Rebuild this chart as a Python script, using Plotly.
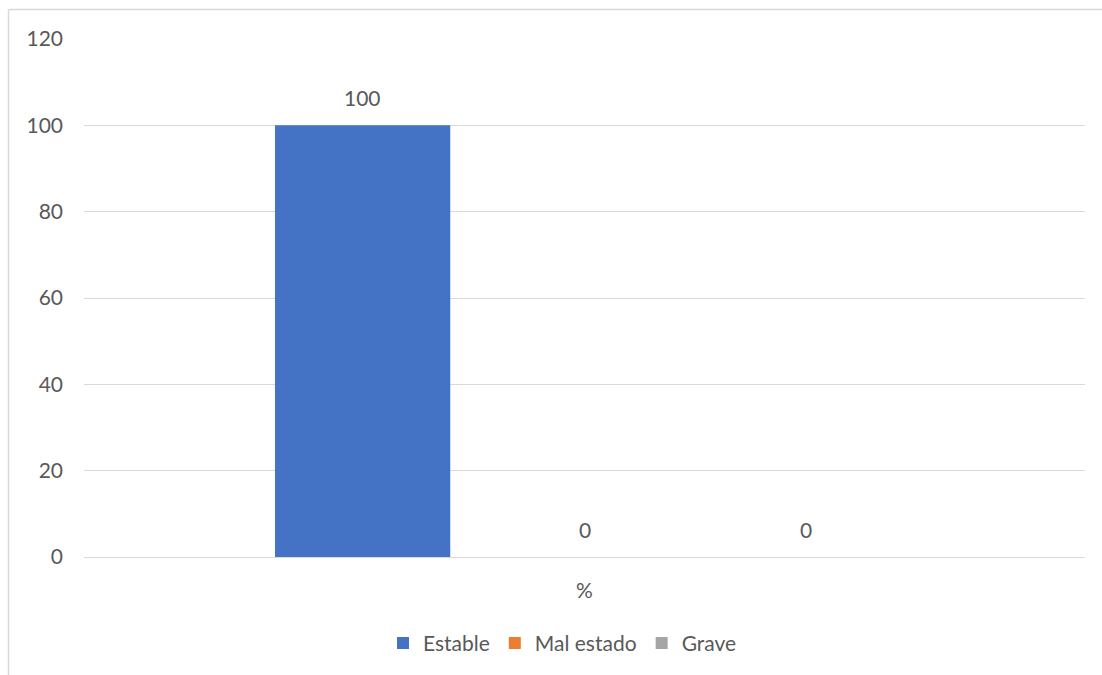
import plotly.graph_objects as go

# Chart data
categories = ["%"]
series_names = ["Estable", "Mal estado", "Grave"]
series_values = [[100], [0], [0]]
series_colors = ["#4472C4", "#ED7D31", "#A5A5A5"]
y_ticks = [0, 20, 40, 60, 80, 100, 120]

FONT = "Lato"
FONT_SIZE = 21
TEXT_COLOR = "#595959"
GRID_COLOR = "#D9D9D9"

BARGAP = 0.335
BARGROUPGAP = 0.21

fig = go.Figure()
for name, vals, color in zip(series_names, series_values, series_colors):
    fig.add_trace(go.Bar(
        name=name,
        x=categories,
        y=vals,
        marker=dict(color=color, line=dict(width=0)),
        hoverinfo="skip",
    ))

# Value labels above each bar, placed at the centre of each bar slot
n = len(series_names)
slot = (1 - BARGAP) / n
for i, vals in enumerate(series_values):
    for j, v in enumerate(vals):
        fig.add_annotation(
            x=j + (i - (n - 1) / 2) * slot,
            y=v,
            xref="x", yref="y",
            text=str(v),
            showarrow=False,
            yanchor="bottom",
            yshift=13,
            font=dict(family=FONT, size=FONT_SIZE, color=TEXT_COLOR),
        )

# Chart frame (top and left edges)
W, H = 1102, 675
ml, mr, mt, mb = 84, 17, 39, 117
pw, ph = W - ml - mr, H - mt - mb
def px_to_paper_x(px):
    return (px - ml) / pw
def px_to_paper_y(py):
    return (H - mb - py) / ph

fig.add_shape(type="line", xref="paper", yref="paper",
              x0=px_to_paper_x(8.5), x1=px_to_paper_x(W + 5),
              y0=px_to_paper_y(9.5), y1=px_to_paper_y(9.5),
              line=dict(color=GRID_COLOR, width=1.5))
fig.add_shape(type="line", xref="paper", yref="paper",
              x0=px_to_paper_x(8.5), x1=px_to_paper_x(8.5),
              y0=px_to_paper_y(9.5), y1=px_to_paper_y(H + 5),
              line=dict(color=GRID_COLOR, width=1.5))

fig.update_layout(
    width=W, height=H,
    margin=dict(l=ml, r=mr, t=mt, b=mb),
    paper_bgcolor="white",
    plot_bgcolor="white",
    barmode="group",
    bargap=BARGAP,
    bargroupgap=BARGROUPGAP,
    font=dict(family=FONT, size=FONT_SIZE, color=TEXT_COLOR),
    showlegend=True,
    legend=dict(
        orientation="h",
        x=0.478, xanchor="center",
        y=-0.125, yanchor="top",
        font=dict(family=FONT, size=FONT_SIZE, color=TEXT_COLOR),
        itemwidth=30,
        traceorder="normal",
    ),
    xaxis=dict(
        type="category",
        range=[-0.5, 0.5],
        showgrid=False,
        showline=False,
        zeroline=False,
        ticks="",
        ticklabelstandoff=19,
        tickfont=dict(family=FONT, size=FONT_SIZE, color=TEXT_COLOR),
        fixedrange=True,
    ),
    yaxis=dict(
        range=[0, 120],
        tickvals=y_ticks,
        showgrid=True,
        gridcolor=GRID_COLOR,
        gridwidth=1.3,
        zeroline=True,
        zerolinecolor=GRID_COLOR,
        zerolinewidth=1.3,
        showline=False,
        ticks="",
        ticklabelstandoff=20,
        tickfont=dict(family=FONT, size=FONT_SIZE, color=TEXT_COLOR),
        fixedrange=True,
    ),
)

fig.write_html("out.html", config={"displayModeBar": False})
